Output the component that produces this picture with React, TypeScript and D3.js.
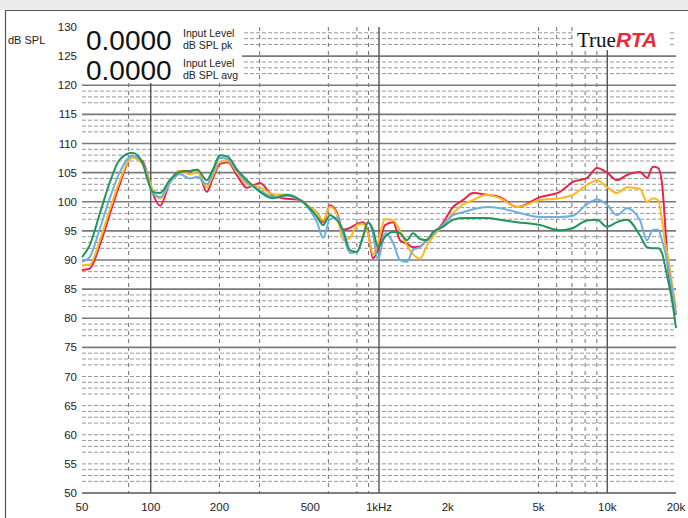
import React from "react";
import * as d3 from "d3";

const freqs = [50, 54, 60, 66, 73, 83, 92, 97, 102, 110, 121, 134, 149, 160, 176, 187, 201, 218, 239, 264, 301, 343, 395, 451, 499, 535, 569, 610, 655, 695, 746, 801, 851, 895, 941, 990, 1063, 1152, 1236, 1326, 1409, 1512, 1622, 1724, 1907, 2110, 2333, 2581, 2972, 3388, 4022, 5072, 6208, 7075, 8151, 9016, 9971, 11030, 12200, 13907, 14927, 15858, 16678, 17366, 17898, 18448, 19207, 20000];

const redSeries = [88.3, 88.5, 92.7, 97.7, 102.9, 107.7, 107, 104.5, 101.5, 99.3, 103.2, 105.3, 105.3, 105.5, 101.7, 104, 106.5, 106.8, 104.5, 102.4, 103.2, 101, 100.5, 100.3, 99, 98.1, 96.5, 99.4, 98.1, 95.2, 95.5, 96.2, 96.5, 94.8, 90.3, 91.7, 96, 96.5, 93.4, 92.8, 92.2, 92.3, 93.5, 94.3, 96.4, 99.1, 100.3, 101.5, 101.2, 100.8, 99.1, 100.8, 101.7, 103.4, 104.1, 105.8, 105, 103.7, 104.6, 105.1, 104.1, 106, 105.8, 103.2, 96.4, 88.8, 84.5, 80.6];
const orangeSeries = [89.1, 89.2, 93.5, 98.5, 103.5, 107.6, 106.5, 104.5, 102, 100.5, 103.2, 105.3, 104.7, 105.2, 102.5, 104.5, 106.8, 107, 105, 103, 102.5, 101.3, 101.2, 100.3, 99, 98, 96.8, 99.2, 97.8, 93.4, 93.8, 96, 96.2, 94.5, 91, 93, 97, 96.8, 95, 92.5, 91, 90.2, 92.5, 94, 96, 98, 99.5, 100.3, 101.2, 100.6, 99.1, 100.3, 100.6, 101.2, 102.9, 103.7, 102.5, 101.5, 102.5, 102.2, 100, 100.6, 100.3, 96.9, 93, 90.5, 86, 81.8];
const blueSeries = [89.7, 90.5, 95.5, 100.5, 105, 107.9, 106.7, 104, 101.5, 100.8, 103.2, 104.7, 104, 104.3, 103, 105, 107.5, 107.3, 105.3, 103.3, 102, 100.8, 101, 100.3, 98.5, 96.5, 93.8, 97, 97.3, 94.5, 91.2, 91.4, 94, 96.5, 94.5, 90, 94.6, 93, 90, 89.7, 91.7, 92.2, 93.5, 94.5, 96, 97.7, 98.2, 98.7, 99.1, 98.9, 98.2, 97.4, 97.4, 97.6, 99.6, 100.4, 99.5, 97.7, 98.9, 96.8, 93.4, 95.2, 95.2, 93.4, 91.5, 89, 85, 80.8];
const greenSeries = [90.5, 92.5, 98.1, 103.2, 107.2, 108.4, 106.7, 103.7, 101.7, 101.5, 103.7, 105.1, 105.3, 105.5, 103.7, 105.5, 108, 107.7, 105.5, 103.7, 101.7, 100.6, 101.2, 100.3, 98.8, 97.4, 96, 97.7, 96.8, 95.2, 91.7, 91.4, 94, 96.5, 95.2, 92.2, 94, 94.8, 94.6, 93.4, 94.6, 93.6, 93.4, 94.8, 95.7, 96.9, 97.2, 97.2, 97.2, 96.9, 96.5, 96, 95.1, 95.5, 96.8, 96.9, 95.7, 96.5, 96.9, 94.2, 92.2, 92, 92, 91.2, 89, 86.5, 83.1, 78.3];

const seriesList = [
  { name: "red", values: redSeries, color: "#e6254c" },
  { name: "orange", values: orangeSeries, color: "#ffb81c" },
  { name: "blue", values: blueSeries, color: "#6cb0e2" },
  { name: "green", values: greenSeries, color: "#23955a" },
];

const yTickLabels = [50, 55, 60, 65, 70, 75, 80, 85, 90, 95, 100, 105, 110, 115, 120, 125, 130];
const solidDb = [75, 80, 85, 90, 95, 100, 105, 110, 115, 120, 125];
const dashedDb = [129, 128, 127, 124, 123, 122, 119, 118, 117, 114, 113, 112, 109, 108, 107, 104, 103, 102, 99, 98, 97, 94, 93, 92, 89, 88, 87, 84, 83, 82, 79, 78, 77, 74, 73, 72, 70, 69, 68, 67, 65, 64, 63, 62, 60, 59, 58, 57, 55, 54, 53, 52];
const xTickValues = [50, 100, 200, 500, 1000, 2000, 5000, 10000, 20000];
const xTickLabels = ["50", "100", "200", "500", "1kHz", "2k", "5k", "10k", "20k"];
const solidFreqs = [100, 1000, 10000];
const dashedFreqs = [80, 200, 300, 600, 800, 900, 5000, 6000, 7000, 8000, 9000];

export default function App() {
  const W = 688, H = 518;
  const x = d3.scaleLog().domain([50, 20000]).range([82, 676]);
  const y = d3.scaleLinear().domain([50, 130]).range([493, 27]);
  const x0 = x(50), x1 = x(20000);

  const line = d3
    .line<number>()
    .x((_, i) => x(freqs[i]))
    .y((d) => y(d))
    .curve(d3.curveMonotoneX);

  const font = "Arial, 'Liberation Sans', sans-serif";

  return (
    <svg
      width={W}
      height={H}
      style={{ position: "absolute", left: 0, top: 0, background: "#fff" }}
      fontFamily={font}
    >
      <rect x={0} y={0} width={W} height={10} fill="#ececec" />
      <line x1={5} y1={10.5} x2={W} y2={10.5} stroke="#555" strokeWidth={1.2} />
      <line x1={5.5} y1={10} x2={5.5} y2={H} stroke="#555" strokeWidth={1.2} />

      {dashedDb.map((v) => (
        <line key={"hd" + v} x1={x0} x2={x1} y1={y(v)} y2={y(v)} stroke="#999" strokeWidth={1} strokeDasharray="4,2" />
      ))}
      {dashedFreqs.map((f) => (
        <line key={"vd" + f} x1={x(f)} x2={x(f)} y1={y(130)} y2={y(50)} stroke="#707070" strokeWidth={1} strokeDasharray="4,4" />
      ))}
      {solidDb.map((v) => (
        <line key={"hs" + v} x1={x0} x2={x1} y1={y(v)} y2={y(v)} stroke="#7a7a7a" strokeWidth={1.6} />
      ))}
      <line x1={x0} x2={x1} y1={y(50)} y2={y(50)} stroke="#555" strokeWidth={1.4} />
      {solidFreqs.map((f) => (
        <line key={"vs" + f} x1={x(f)} x2={x(f)} y1={y(130)} y2={y(50)} stroke="#555" strokeWidth={1.4} />
      ))}

      {seriesList.map((s) => (
        <path key={s.name} d={line(s.values) || ""} fill="none" stroke={s.color} strokeWidth={2} strokeLinejoin="round" />
      ))}

      <rect x={82} y={26} width={160} height={57} fill="#fff" />
      <text x={86} y={50} fontSize={28} fill="#111">0.0000</text>
      <text x={86} y={80} fontSize={28} fill="#111">0.0000</text>
      <text x={183} y={37} fontSize={10.5} fill="#222">Input Level</text>
      <text x={183} y={49} fontSize={10.5} fill="#222">dB SPL pk</text>
      <text x={183} y={67} fontSize={10.5} fill="#222">Input Level</text>
      <text x={183} y={79} fontSize={10.5} fill="#222">dB SPL avg</text>

      <rect x={574} y={26} width={96} height={24} fill="#fff" />
      <text x={577} y={47} fontSize={21}>
        <tspan fontFamily="'Liberation Serif', 'DejaVu Serif', serif" fill="#111">True</tspan>
        <tspan fontFamily={font} fontWeight="bold" fontStyle="italic" fill="#e8283c">RTA</tspan>
      </text>

      <text x={8} y={44} fontSize={11} fill="#222">dB SPL</text>

      {yTickLabels.map((v) => (
        <text key={"yl" + v} x={77} y={y(v) + 4} fontSize={11.5} fill="#222" textAnchor="end">{v}</text>
      ))}
      {xTickValues.map((f, i) => (
        <text key={"xl" + f} x={x(f)} y={511} fontSize={11.5} fill="#222" textAnchor="middle">{xTickLabels[i]}</text>
      ))}
    </svg>
  );
}
